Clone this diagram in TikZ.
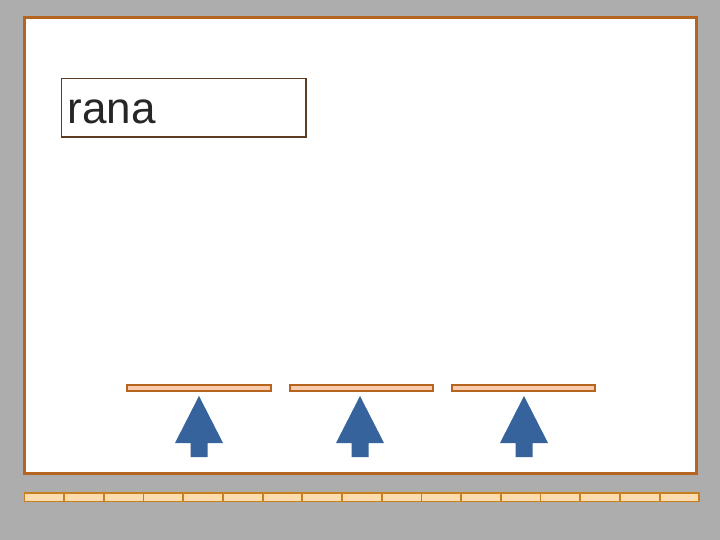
\documentclass[tikz,border=0pt]{standalone}
\usepackage{fontspec}
\setmainfont{Liberation Sans}
\definecolor{bggray}{HTML}{ADADAD}
\definecolor{frameor}{HTML}{B5651D}
\definecolor{boxbrown}{HTML}{5E3C22}
\definecolor{peach}{HTML}{F8CBAD}
\definecolor{stripfill}{HTML}{FDDCB0}
\definecolor{stripline}{HTML}{C8801E}
\definecolor{arrowblue}{HTML}{36639B}
\tikzset{
  barbox/.style={draw=frameor, fill=peach, line width=2.2pt},
  upar/.style={fill=arrowblue, draw=none},
  seg/.style={draw=stripline, fill=stripfill, line width=1.8pt}
}
\begin{document}
\begin{tikzpicture}[x=1pt,y=-1pt]
\fill[bggray] (0,0) rectangle (720,540);
\useasboundingbox (0,0) rectangle (720,540);
\draw[frameor, fill=white, line width=3pt] (24.5,17.5) rectangle (696.5,473.5);
\node[draw=boxbrown, line width=1.6pt, minimum width=244.5pt, minimum height=58.5pt, inner sep=0pt, anchor=north west] (tbox) at (60.8,77.8) {};
\node[anchor=base west, inner sep=0pt, text=black!85, font=\fontsize{44}{44}\selectfont] (txt) at (67.5,124) {rana};
\foreach \a/\b [count=\i] in {126/270,289/432,451/594}{
  \node[barbox, minimum width=\b-\a, minimum height=5.5pt, inner sep=0pt, anchor=north west] (bar\i) at (\a,384) {};
}
\foreach \c [count=\i] in {199,360,524}{
  \fill[upar] (\c,396) -- (\c+24,443) -- (\c+8.5,443) -- (\c+8.5,457) -- (\c-8.5,457) -- (\c-8.5,443) -- (\c-24,443) -- cycle;
}
\foreach \i in {0,...,16}{
  \node[seg, minimum width=39.7pt, minimum height=8.5pt, inner sep=0pt, anchor=north west] (s\i) at (23.5+\i*39.7,492) {};
}
\end{tikzpicture}
\end{document}
